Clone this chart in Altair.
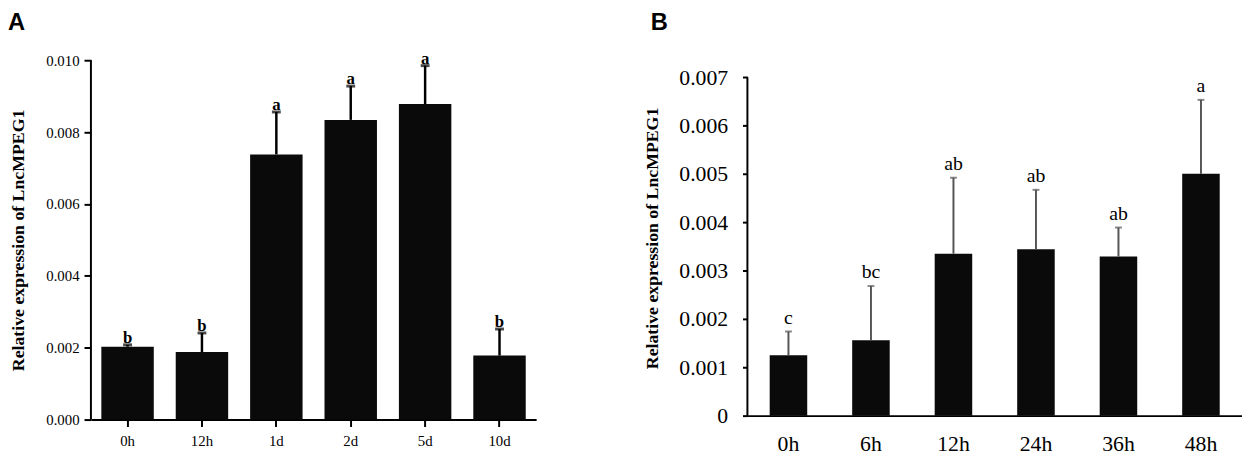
import altair as alt
import pandas as pd

# Panel A data
a_cats = ["0h", "12h", "1d", "2d", "5d", "10d"]
a_mean = [0.00203, 0.00188, 0.00738, 0.00834, 0.00878, 0.00178]
a_top = [0.00208, 0.00241, 0.00856, 0.00928, 0.00985, 0.00252]
a_sig = ["b", "b", "a", "a", "a", "b"]

# Panel B data
b_cats = ["0h", "6h", "12h", "24h", "36h", "48h"]
b_mean = [0.00125, 0.00156, 0.00335, 0.00344, 0.00329, 0.00500]
b_top = [0.00174, 0.00268, 0.00492, 0.00467, 0.00389, 0.00653]
b_sig = ["c", "bc", "ab", "ab", "ab", "a"]

y_title = "Relative expression of LncMPEG1"
SERIF = "Liberation Serif"
SANS = "Liberation Sans"

df_a = pd.DataFrame({"cat": a_cats, "mean": a_mean, "top": a_top, "sig": a_sig})
df_b = pd.DataFrame({"cat": b_cats, "mean": b_mean, "top": b_top, "sig": b_sig})


def panel(df, cats, letter, w, h, ymax, axis_max, ticks, pin, pout, tick_font, x_font,
          label_pad, tick_size, x_tick_size, x_label_pad, title_x, letter_x, letter_y,
          err_color, err_width, cap_size, cap_thick, sig_font, sig_weight, sig_dy,
          label_expr):
    xscale = alt.Scale(paddingInner=pin, paddingOuter=pout)
    x_axis = alt.Axis(labelAngle=0, labelFont=SERIF, labelFontSize=x_font,
                      labelColor="black", labelPadding=x_label_pad,
                      tickSize=x_tick_size, tickWidth=2, tickColor="black",
                      ticks=x_tick_size > 0,
                      domainColor="black", domainWidth=2, grid=False)
    y_axis = alt.Axis(values=ticks, labelExpr=label_expr, labelFont=SERIF,
                      labelFontSize=tick_font, labelColor="black",
                      labelPadding=label_pad, tickSize=tick_size, tickWidth=2,
                      tickColor="black", domain=False,
                      grid=False, title=y_title, titleFont=SERIF, titleFontSize=18,
                      titleFontWeight="bold", titleColor="black", titleAngle=-90,
                      titleX=title_x, titleY=h / 2, titleBaseline="middle",
                      titleAlign="center")
    yscale = alt.Scale(domain=[0, ymax], nice=False, zero=True)

    def X():
        return alt.X("cat:N", sort=cats, title=None, scale=xscale, axis=x_axis)

    def Y(field):
        return alt.Y(field, scale=yscale, axis=y_axis, title=y_title)

    base = alt.Chart(df)
    bars = base.mark_bar(color="#0a0a0a").encode(x=X(), y=Y("mean:Q"))
    err = base.mark_rule(color=err_color, strokeWidth=err_width).encode(
        x=X(), y=Y("mean:Q"), y2="top:Q")
    cap = base.mark_tick(color=err_color, size=cap_size, thickness=cap_thick,
                         orient="horizontal").encode(x=X(), y=Y("top:Q"))
    sig = base.mark_text(font=SERIF, fontSize=sig_font, fontWeight=sig_weight,
                         color="black", baseline="alphabetic", dy=sig_dy).encode(
        x=X(), y=Y("top:Q"), text="sig:N")
    # y axis line from 0 to the top tick
    yline = alt.Chart(pd.DataFrame({"y0": [0.0], "y1": [axis_max]})).mark_rule(
        color="black", strokeWidth=2).encode(
        x=alt.value(0), y=Y("y0:Q"), y2="y1:Q")
    lab = alt.Chart(pd.DataFrame({"t": [letter]})).mark_text(
        font=SANS, fontSize=24, fontWeight="bold", color="black",
        align="left", baseline="top").encode(
        text="t:N", x=alt.value(letter_x), y=alt.value(letter_y))
    return alt.layer(bars, err, cap, sig, yline, lab).properties(width=w, height=h)


fmt_a = "format(datum.value, '.3f')"
fmt_b = "datum.value == 0 ? '0' : format(datum.value, '.3f')"

chart_a = panel(df_a, a_cats, "A", 451, 364, 0.010, 0.010,
                [0, 0.002, 0.004, 0.006, 0.008, 0.010], 0.295, 0.14,
                15, 15, 5, 7, 7, 7, -73, -84, -50,
                "black", 2.5, 9, 3, 17, "bold", -2, fmt_a)
chart_b = panel(df_b, b_cats, "B", 501, 360, 0.00735, 0.007,
                [0, 0.001, 0.002, 0.003, 0.004, 0.005, 0.006, 0.007], 0.545, 0.27,
                22, 22, 15, 5, 0, 18, -96, -98, -50,
                "#555555", 2, 7, 2, 20, "normal", -8, fmt_b)

chart = alt.hconcat(chart_a, chart_b, spacing=109).properties(
    padding=0, background="white"
).configure_view(stroke=None).configure_axis(labelFont=SERIF, titleFont=SERIF)

chart.save("out.html", embed_options={"renderer": "svg", "actions": False})
